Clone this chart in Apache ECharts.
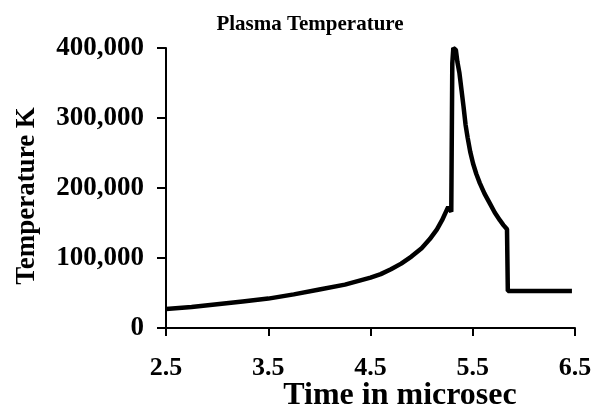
<!DOCTYPE html>
<html>
<head>
<meta charset="utf-8">
<script src="https://cdn.jsdelivr.net/npm/echarts@6/dist/echarts.min.js"></script>
<style>
html,body{margin:0;padding:0;background:#fff;}
#chart{width:609px;height:407px;}
</style>
</head>
<body>
<div id="chart"></div>
<script>
var chartTitle = 'Plasma Temperature';
var xAxisTitle = 'Time in microsec';
var yAxisTitle = 'Temperature K';
var xTickValues = [2.5, 3.5, 4.5, 5.5, 6.5];
var yTickValues = [0, 100000, 200000, 300000, 400000];
var timeMicrosec = [2.5, 2.75, 3.0, 3.25, 3.5, 3.75, 4.0, 4.25, 4.5, 4.6, 4.7, 4.8, 4.9, 5.0, 5.08, 5.15, 5.2, 5.26, 5.29, 5.296, 5.30, 5.31, 5.335, 5.35, 5.37, 5.39, 5.41, 5.43, 5.45, 5.475, 5.503, 5.535, 5.569, 5.615, 5.667, 5.715, 5.765, 5.80, 5.835, 5.843, 6.47];
var temperatureK = [27000, 30000, 34000, 38000, 42000, 48000, 55000, 62000, 72000, 77000, 84000, 92000, 102000, 114000, 127000, 141000, 154000, 173000, 166000, 166000, 378000, 400000, 397000, 380000, 364000, 340000, 316000, 290000, 272000, 252000, 235000, 220000, 207000, 192000, 178000, 165000, 154000, 147000, 141000, 53000, 53000];

var seriesData = timeMicrosec.map(function (t, i) { return [t, temperatureK[i]]; });
var serif = 'Liberation Serif';
var chart = echarts.init(document.getElementById('chart'), null, {renderer: 'canvas'});
chart.setOption({
  animation: false,
  backgroundColor: '#ffffff',
  title: [
    {text: chartTitle, left: 305, top: 9, textAlign: 'center',
     textStyle: {fontFamily: serif, fontWeight: 'bold', fontSize: 21, color: '#000'}},
    {text: xAxisTitle, left: 395, top: 375, textAlign: 'center',
     textStyle: {fontFamily: serif, fontWeight: 'bold', fontSize: 32, color: '#000'}}
  ],
  graphic: [{
    type: 'text', x: 27, y: 196, rotation: Math.PI / 2,
    style: {text: yAxisTitle, fontFamily: serif, fontWeight: 'bold', fontSize: 27, fill: '#000',
      align: 'center', verticalAlign: 'middle'}
  }],
  grid: {left: 166, right: 34, top: 48, bottom: 79, containLabel: false},
  xAxis: {
    type: 'value', min: 2.5, max: 6.5,
    axisLine: {show: true, onZero: false, lineStyle: {color: '#000', width: 2}},
    axisTick: {show: true, inside: false, length: 8, customValues: xTickValues, lineStyle: {color: '#000', width: 2}},
    axisLabel: {customValues: xTickValues, margin: 27, fontFamily: serif, fontWeight: 'bold', fontSize: 26, color: '#000',
      formatter: function (v) { return v.toFixed(1); }},
    splitLine: {show: false}
  },
  yAxis: {
    type: 'value', min: 0, max: 400000, interval: 100000,
    axisLine: {show: true, lineStyle: {color: '#000', width: 2}},
    axisTick: {show: true, inside: false, length: 9, lineStyle: {color: '#000', width: 2}},
    axisLabel: {margin: 22, fontFamily: serif, fontWeight: 'bold', fontSize: 27, color: '#000',
      formatter: function (v) { return v.toLocaleString('en-US'); }},
    splitLine: {show: false}
  },
  series: [{
    type: 'line', data: seriesData, showSymbol: false, smooth: false,
    lineStyle: {color: '#000', width: 4.5}, clip: false
  }]
});
</script>
</body>
</html>
